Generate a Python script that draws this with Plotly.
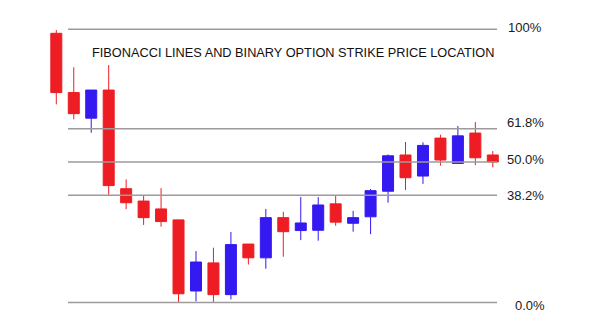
import plotly.graph_objects as go

# ---- data (y in chart units where 0% = 0, 50% = 50) ----
idx = list(range(26))
opens  = [95.8, 74.7, 65.6, 75.6, 40.5, 36.1, 33.3, 29.4, 4.1, 14.1, 2.8, 20.8, 15.9,
          30.2, 25.6, 25.7, 35.1, 28.2, 30.5, 39.6, 52.5, 45.0, 58.5, 49.5, 60.3, 52.5]
highs  = [97.0, 83.7, 75.6, 84.5, 43.8, 38.0, 40.7, 29.4, 18.3, 19.5, 25.1, 20.8, 33.3,
          32.3, 37.5, 37.5, 38.0, 32.6, 40.4, 52.7, 57.1, 57.0, 59.7, 62.8, 64.2, 53.9]
lows   = [70.5, 65.2, 60.4, 38.3, 33.2, 27.6, 27.0, 0.0, 0.4, 0.2, 1.1, 13.5, 12.0,
          16.3, 22.2, 22.0, 27.3, 25.2, 24.3, 35.5, 40.0, 42.2, 48.7, 49.5, 48.9, 48.1]
closes = [74.7, 67.2, 75.6, 41.6, 35.5, 30.2, 28.8, 3.1, 14.4, 2.8, 20.6, 15.9, 30.2,
          25.2, 28.3, 34.7, 28.6, 30.2, 39.8, 52.2, 44.4, 55.9, 50.7, 59.3, 51.5, 50.0]

fib_labels = ["0.0%", "38.2%", "50.0%", "61.8%", "100%"]
fib_levels = [0.0, 38.2, 50.0, 61.8, 97.2]

title_text = "FIBONACCI LINES AND BINARY OPTION STRIKE PRICE LOCATION"

RED = "#EE1D23"
BLUE = "#3419F0"
LINE = "#9E9A9B"

fig = go.Figure()

# Fibonacci lines
line_x0, line_x1 = 0.67, 25.24
for lv in fib_levels:
    fig.add_trace(go.Scatter(x=[line_x0, line_x1], y=[lv, lv], mode="lines",
                             line=dict(color=LINE, width=1.5), hoverinfo="skip",
                             showlegend=False))

fig.add_trace(go.Candlestick(
    x=idx, open=opens, high=highs, low=lows, close=closes,
    increasing=dict(line=dict(color=BLUE, width=1), fillcolor=BLUE),
    decreasing=dict(line=dict(color=RED, width=1), fillcolor=RED),
    whiskerwidth=0, showlegend=False))

# level labels
label_x = [26.17, 25.71, 25.71, 25.71, 25.75]
label_shift = [-3, 0, 3, 6, 2]
for lab, lv, lx, sh in zip(fib_labels, fib_levels, label_x, label_shift):
    fig.add_annotation(x=lx, y=lv, text=lab, showarrow=False, xanchor="left",
                       yanchor="middle", yshift=sh,
                       font=dict(family="Liberation Sans, Arial", size=13, color="#1a1a1a"))

fig.add_annotation(x=1.93, y=89.0, text=title_text, showarrow=False, xanchor="left",
                   yanchor="middle",
                   font=dict(family="Liberation Sans, Arial", size=12.75, color="#111111"))

fig.update_layout(
    width=596, height=327,
    margin=dict(l=0, r=0, t=0, b=0),
    paper_bgcolor="white", plot_bgcolor="white",
    boxgap=0.1, boxgroupgap=0.3,
    xaxis=dict(range=[-3.225, 30.91], visible=False, rangeslider=dict(visible=False),
               fixedrange=True),
    yaxis=dict(range=[-8.72, 107.65], visible=False, fixedrange=True),
)

fig.write_html("out.html")
